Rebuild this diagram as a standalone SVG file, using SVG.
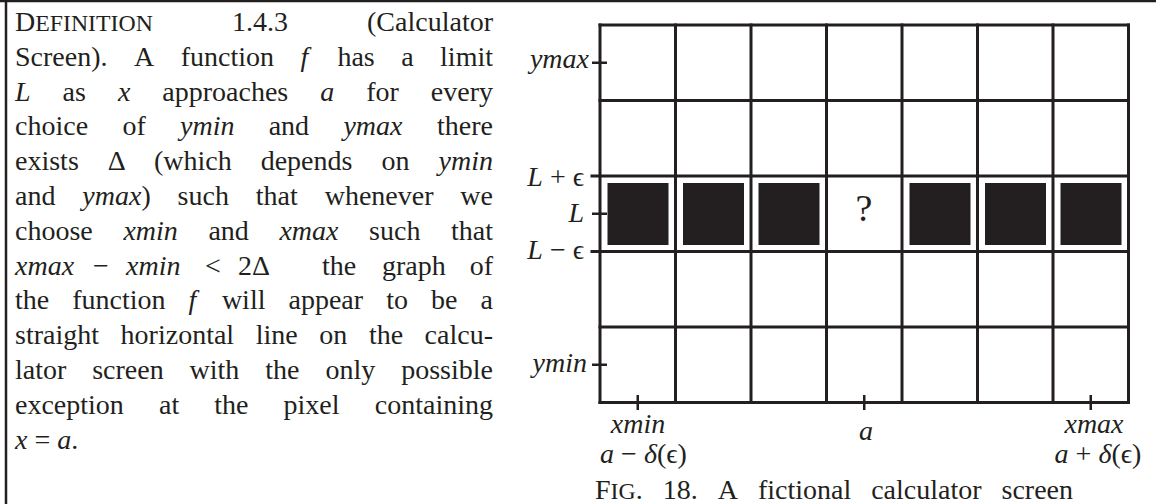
<svg xmlns="http://www.w3.org/2000/svg" width="1156" height="504" viewBox="0 0 1156 504">
<style>
text{font-family:"Liberation Serif","DejaVu Serif",serif;fill:#231f20}
.b{font-size:28px}
.r{text-anchor:end}
.c{text-anchor:middle}
.m{font-style:italic}
.sc{font-size:23.8px}
.lb{font-size:28px}
.grid line{stroke:#231f20;stroke-width:3;stroke-linecap:square}
.tick line{stroke:#231f20;stroke-width:2.5}
.px rect{fill:#231f20}
.frame{stroke:#231f20;fill:none}
</style>
<g id="frame">
<line class="frame" x1="0" y1="1" x2="1156" y2="1" stroke-width="2.5"/>
<line class="frame" x1="6" y1="0" x2="6" y2="504" stroke-width="2.5"/>
</g>
<g id="definition" class="b">
<text class="b" y="31"><tspan x="15">D<tspan class="sc">EFINITION</tspan></tspan><tspan x="231.9">1.4.3</tspan></text>
<text class="b r" x="493" y="31">(Calculator</text>
<text class="b" y="65.8"><tspan x="15">Screen).</tspan><tspan x="134">A</tspan><tspan x="180.7">function</tspan><tspan x="300.5" class="m">f</tspan><tspan x="337.4">has</tspan><tspan x="401.2">a</tspan></text>
<text class="b r" x="493" y="65.8">limit</text>
<text class="b" y="100.6"><tspan x="15" class="m">L</tspan><tspan x="62.6">as</tspan><tspan x="117.9" class="m">x</tspan><tspan x="162.3">approaches</tspan><tspan x="320.2" class="m">a</tspan><tspan x="366.2">for</tspan></text>
<text class="b r" x="493" y="100.6">every</text>
<text class="b" y="135.4"><tspan x="15">choice</tspan><tspan x="122.4">of</tspan><tspan x="180" class="m">ymin</tspan><tspan x="268.7">and</tspan><tspan x="343.4" class="m">ymax</tspan></text>
<text class="b r" x="493" y="135.4">there</text>
<text class="b" y="170.2"><tspan x="15">exists</tspan><tspan x="107.8">Δ</tspan><tspan x="153.9">(which</tspan><tspan x="260.7">depends</tspan><tspan x="381.5">on</tspan></text>
<text class="b r m" x="493" y="170.2">ymin</text>
<text class="b" y="205"><tspan x="15">and</tspan><tspan x="82.3"><tspan class="m">ymax</tspan>)</tspan><tspan x="177.6">such</tspan><tspan x="255.8">that</tspan><tspan x="324.7">whenever</tspan></text>
<text class="b r" x="493" y="205">we</text>
<text class="b" y="239.8"><tspan x="15">choose</tspan><tspan x="123.4" class="m">xmin</tspan><tspan x="208.4">and</tspan><tspan x="279.4" class="m">xmax</tspan><tspan x="369.1">such</tspan></text>
<text class="b r" x="493" y="239.8">that</text>
<text class="b" y="274.6"><tspan x="15" class="m">xmax</tspan><tspan x="93">−</tspan><tspan x="126" class="m">xmin</tspan><tspan x="205">&lt;</tspan><tspan x="238">2Δ</tspan><tspan x="322">the</tspan><tspan x="382">graph</tspan></text>
<text class="b r" x="493" y="274.6">of</text>
<text class="b" y="309.4"><tspan x="15">the</tspan><tspan x="72.2">function</tspan><tspan x="188.5" class="m">f</tspan><tspan x="221.9">will</tspan><tspan x="288.5">appear</tspan><tspan x="386.2">to</tspan><tspan x="431">be</tspan></text>
<text class="b r" x="493" y="309.4">a</text>
<text class="b" y="344.2"><tspan x="15">straight</tspan><tspan x="120.6">horizontal</tspan><tspan x="255.7">line</tspan><tspan x="319.3">on</tspan><tspan x="368.9">the</tspan></text>
<text class="b r" x="493" y="344.2">calcu-</text>
<text class="b" y="379"><tspan x="15">lator</tspan><tspan x="92.2">screen</tspan><tspan x="189.6">with</tspan><tspan x="265.3">the</tspan><tspan x="325.4">only</tspan></text>
<text class="b r" x="493" y="379">possible</text>
<text class="b" y="413.8"><tspan x="15">exception</tspan><tspan x="159">at</tspan><tspan x="214.3">the</tspan><tspan x="283.6">pixel</tspan></text>
<text class="b r" x="493" y="413.8">containing</text>
<text class="b" x="15" y="448.6"><tspan class="m">x</tspan> = <tspan class="m">a</tspan>.</text>
</g>
<g id="screen-grid" class="grid">
<line x1="600" y1="25" x2="600" y2="402.5"/>
<line x1="675.5" y1="25" x2="675.5" y2="402.5"/>
<line x1="751" y1="25" x2="751" y2="402.5"/>
<line x1="826.5" y1="25" x2="826.5" y2="402.5"/>
<line x1="902" y1="25" x2="902" y2="402.5"/>
<line x1="977.5" y1="25" x2="977.5" y2="402.5"/>
<line x1="1053" y1="25" x2="1053" y2="402.5"/>
<line x1="1128.5" y1="25" x2="1128.5" y2="402.5"/>
<line x1="600" y1="25" x2="1128.5" y2="25"/>
<line x1="600" y1="100.5" x2="1128.5" y2="100.5"/>
<line x1="592" y1="176" x2="1128.5" y2="176"/>
<line x1="592" y1="251.5" x2="1128.5" y2="251.5"/>
<line x1="600" y1="327" x2="1128.5" y2="327"/>
<line x1="600" y1="402.5" x2="1128.5" y2="402.5"/>
</g>
<g id="pixels" class="px">
<rect x="607.5" y="183" width="61" height="62"/>
<rect x="683" y="183" width="61" height="62"/>
<rect x="758.5" y="183" width="61" height="62"/>
<rect x="909.5" y="183" width="61" height="62"/>
<rect x="985" y="183" width="61" height="62"/>
<rect x="1060.5" y="183" width="61" height="62"/>
<text x="864" y="221" class="c" font-size="38">?</text>
</g>
<g id="ticks" class="tick">
<line x1="592" y1="62.75" x2="607" y2="62.75"/>
<line x1="592" y1="213.75" x2="607" y2="213.75"/>
<line x1="592" y1="364.75" x2="607" y2="364.75"/>
<line x1="637.75" y1="395" x2="637.75" y2="410"/>
<line x1="864.25" y1="395" x2="864.25" y2="410"/>
<line x1="1090.75" y1="395" x2="1090.75" y2="410"/>
</g>
<g id="axis-labels" class="lb">
<text class="lb r m" x="589" y="68">ymax</text>
<text class="lb r" x="584" y="186"><tspan class="m">L</tspan> + ϵ</text>
<text class="lb r m" x="584" y="222">L</text>
<text class="lb r" x="584" y="259"><tspan class="m">L</tspan> − ϵ</text>
<text class="lb r m" x="587" y="372">ymin</text>
<text class="lb c m" x="638" y="433">xmin</text>
<text class="lb c" x="643.5" y="463"><tspan class="m">a</tspan> − <tspan class="m">δ</tspan>(ϵ)</text>
<text class="lb c m" x="866" y="440">a</text>
<text class="lb c m" x="1094" y="433">xmax</text>
<text class="lb c" x="1098" y="463"><tspan class="m">a</tspan> + <tspan class="m">δ</tspan>(ϵ)</text>
</g>
<g id="caption">
<text class="b" y="499"><tspan x="595">F<tspan class="sc">IG</tspan>.</tspan><tspan x="662.7">18.</tspan><tspan x="717.7">A</tspan><tspan x="757.9">fictional</tspan><tspan x="871.2">calculator</tspan></text>
<text class="b r" x="1073" y="499">screen</text>
</g>
</svg>
